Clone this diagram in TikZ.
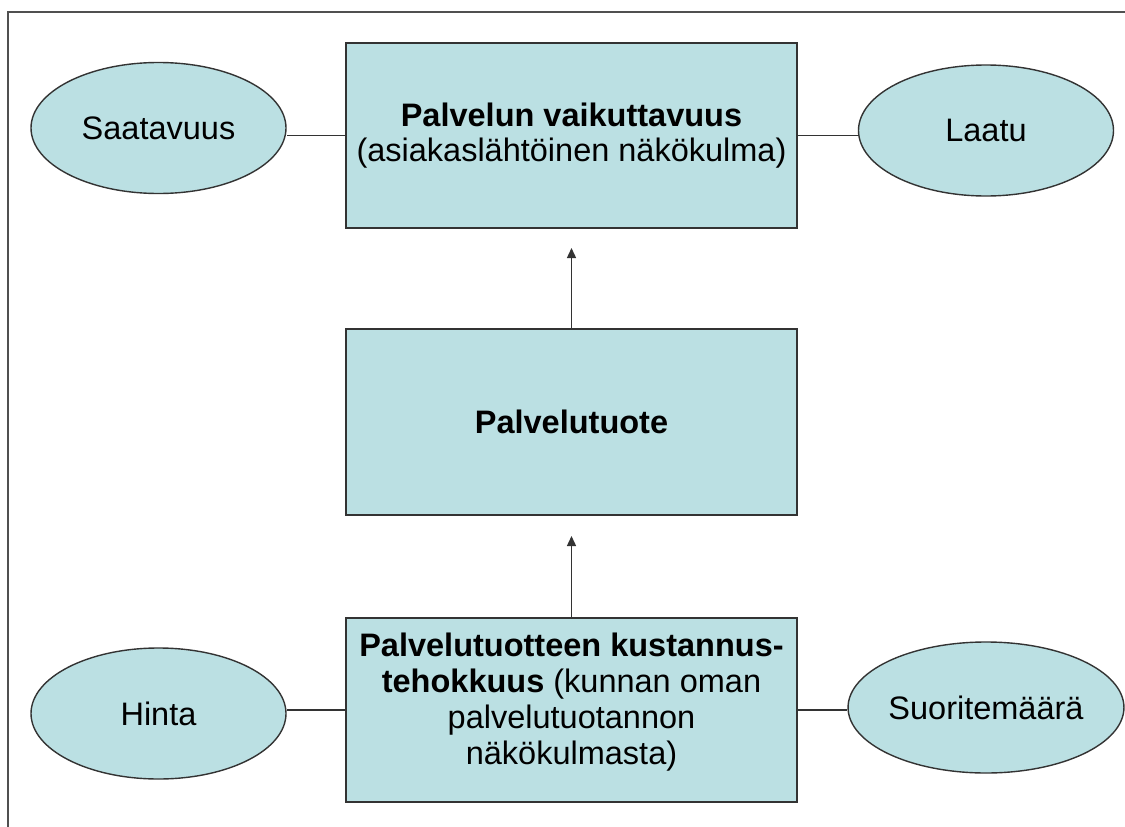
\documentclass[tikz,border=0pt]{standalone}
\usepackage{fontspec}
\setmainfont{Liberation Sans}
\usetikzlibrary{arrows.meta,shapes.geometric}
\definecolor{boxfill}{RGB}{187,224,227}
\definecolor{edge}{RGB}{51,51,51}
\definecolor{framec}{RGB}{80,80,80}
\tikzset{
  big/.style={draw=edge, line width=1.4pt, fill=boxfill, rectangle, inner sep=0pt,
    minimum width=451pt, align=center, font=\fontsize{32.5}{35}\selectfont},
  oval/.style={draw=edge, line width=1.4pt, fill=boxfill, ellipse, inner sep=0pt,
    minimum width=255pt, minimum height=131pt, font=\fontsize{32.5}{35}\selectfont},
  link/.style={draw=edge, line width=1.4pt},
  uparrow/.style={link, -{Triangle[width=9pt,length=10pt]}}
}
\begin{document}
\begin{tikzpicture}[x=1pt,y=-1pt]
\useasboundingbox (0,0) rectangle (1125,827);
\draw[framec, line width=2.2pt] (8,827) -- (8,12) -- (1125,12);
\node[big, minimum height=185pt] (top) at (571.5,135.5) {\textbf{Palvelun vaikuttavuus}\\(asiakaslähtöinen näkökulma)};
\node[big, minimum height=186pt] (mid) at (571.5,422) {\textbf{Palvelutuote}};
\node[big, minimum height=184pt, font=\fontsize{32.5}{36}\selectfont, text depth=23pt] (bot) at (571.5,710) {\textbf{Palvelutuotteen kustannus-}\\\textbf{tehokkuus} (kunnan oman\\palvelutuotannon\\näkökulmasta)};
\node[oval] (sat) at (158.5,128) {Saatavuus};
\node[oval] (laa) at (986,130.5) {Laatu};
\node[oval] (hin) at (158.5,713.5) {Hinta};
\node[oval] (suo) at (986,707.5) {Suoritemäärä};
\coordinate (tip1) at (571.5,248);
\coordinate (tip2) at (571.5,536);
\draw[uparrow] (mid.north) -- (tip1);
\draw[uparrow] (bot.north) -- (tip2);
\draw[link] (top.west) -- (top.west -| sat.east);
\draw[link] (top.east) -- (top.east -| laa.west);
\draw[link] (bot.west) -- (bot.west -| hin.east);
\draw[link] (bot.east) -- (bot.east -| suo.west);
\end{tikzpicture}
\end{document}
